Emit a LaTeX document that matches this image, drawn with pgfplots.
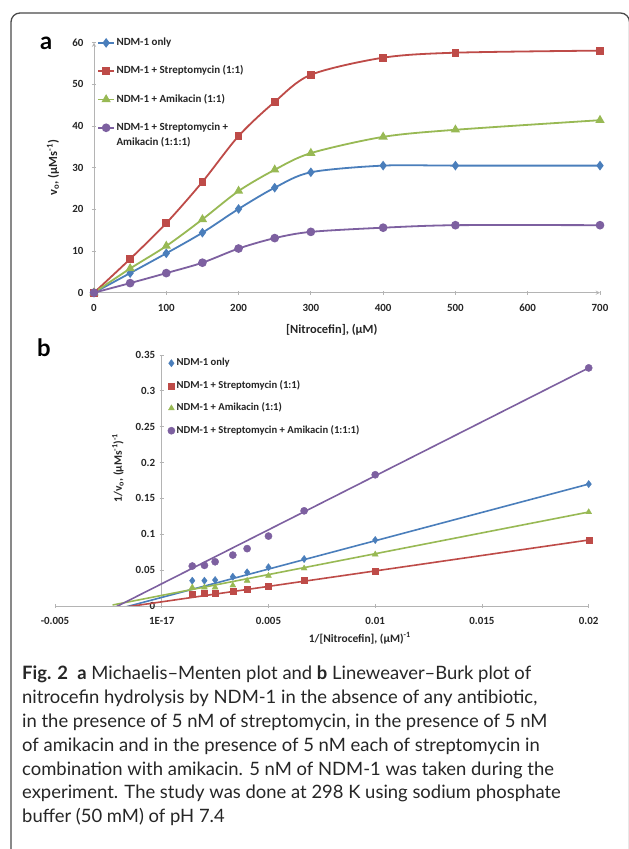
\documentclass[border=0pt]{standalone}
\usepackage{fontspec}
\setmainfont{Carlito}
\newfontfamily\capfont{Lato}
\usepackage{pgfplots}
\pgfplotsset{compat=1.18}
\definecolor{cblue}{HTML}{4A7EBB}
\definecolor{cred}{HTML}{BE4B48}
\definecolor{cgreen}{HTML}{98B954}
\definecolor{cpurple}{HTML}{7D60A0}
\definecolor{axgray}{HTML}{B4B4B4}
\definecolor{framegray}{HTML}{4A4A4A}
\newcommand{\lblfont}{\fontsize{11.5}{13}\selectfont\bfseries}
\newcommand{\lblfonta}{\fontsize{12.5}{14}\selectfont\bfseries}
\pgfplotsset{
  common/.style={
    scale only axis,
    axis line style={-, draw=axgray, line width=0.9bp},
    tick style={draw=axgray, line width=0.9bp},
    tick align=outside,
    major tick length=4bp,
    ticklabel style={font=\fontsize{11}{13}\selectfont\bfseries, text=black!85},
    clip=true,
  },
}
\begin{document}
\begin{tikzpicture}
\useasboundingbox (0,0) rectangle (629bp,849bp);
\begin{scope}
\clip (0,0) rectangle (629bp,849bp);
\fill[white] (0,0) rectangle (629bp,849bp);
\draw[framegray, line width=1.3bp, rounded corners=9bp] (11bp,-20bp) -- (11bp,836bp) -- (629.5bp,836bp) -- (629.5bp,-20bp);
\end{scope}

% ---------- panel a ----------
\node[anchor=base west, inner sep=0pt, font=\capfont\bfseries\fontsize{24}{24}\selectfont] at (40bp,799bp) {a};
\begin{axis}[common,
  at={(94bp,556.3bp)}, anchor=south west,
  width=506bp, height=250bp,
  xmin=0, xmax=700, ymin=0, ymax=60,
  axis lines=left,
  xtick={0,100,200,300,400,500,600,700},
  xticklabels={0,100,200,300,400,500,600,700},
  ytick={0,10,20,30,40,50,60},
  yticklabels={0,10,20,30,40,50,60},
  xticklabel style={yshift=-6bp},
  yticklabel style={xshift=-5bp},
  every axis x label/.style={at={(axis description cs:0.47,-0.148)}, anchor=center, font=\lblfonta, text=black!85},
  every axis y label/.style={at={(axis description cs:-0.081,0.5)}, rotate=90, anchor=center, font=\lblfonta, text=black!85},
  xlabel={[Nitrocefin], (µM)},
  ylabel={v\textsubscript{o}, (µMs\textsuperscript{-1})},
  legend image code/.code={\draw[mark repeat=2,mark phase=2,#1] plot coordinates {(0bp,0bp)(8bp,0bp)(16bp,0bp)};},
  legend cell align=left,
  legend style={at={(axis description cs:0.006,1.021)}, anchor=north west, draw=none, fill=none, inner sep=0pt, row sep=17.8bp,
    nodes={inner xsep=1.5bp, inner ysep=0pt, text height=8bp, text depth=2.5bp, font=\fontsize{11}{13}\selectfont\bfseries, text=black!85}},
]
\addplot[cblue, line width=1.8bp, smooth, tension=0.5, mark=diamond*, mark size=3.4bp, mark options={solid}]
  coordinates {(0,0)(50,4.7)(100,9.45)(150,14.4)(200,20.1)(250,25.2)(300,28.9)(400,30.5)(500,30.5)(700,30.5)};
\addlegendentry{NDM-1 only}
\addplot[cred, line width=1.8bp, smooth, tension=0.5, mark=square*, mark size=3bp]
  coordinates {(0,0)(50,8.1)(100,16.7)(150,26.6)(200,37.6)(250,45.8)(300,52.3)(400,56.4)(500,57.6)(700,58.1)};
\addlegendentry{NDM-1 + Streptomycin (1:1)}
\addplot[cgreen, line width=1.8bp, smooth, tension=0.5, mark=triangle*, mark size=3.6bp]
  coordinates {(0,0)(50,5.8)(100,11.2)(150,17.6)(200,24.4)(250,29.5)(300,33.5)(400,37.4)(500,39.1)(700,41.4)};
\addlegendentry{NDM-1 + Amikacin (1:1)}
\addplot[cpurple, line width=1.8bp, smooth, tension=0.5, mark=*, mark size=3.4bp]
  coordinates {(0,0)(50,2.3)(100,4.7)(150,7.2)(200,10.6)(250,13.1)(300,14.6)(400,15.6)(500,16.2)(700,16.2)};
\addlegendentry{\smash{\rlap{\raisebox{-15bp}{Amikacin (1:1:1)}}}NDM-1 + Streptomycin +}
\end{axis}

% ---------- panel b ----------
\node[anchor=base west, inner sep=0pt, font=\capfont\bfseries\fontsize{24}{24}\selectfont] at (37bp,492bp) {b};
\begin{axis}[common,
  at={(55bp,243bp)}, anchor=south west,
  width=533.7bp, height=251bp,
  xmin=-0.005, xmax=0.02, ymin=0, ymax=0.35,
  axis x line=bottom, axis y line=middle,
  axis line style={-},
  hide obscured x ticks=false, hide obscured y ticks=false,
  xtick={-0.005,0,0.005,0.01,0.015,0.02},
  xticklabels={-0.005,1E-17,0.005,0.01,0.015,0.02},
  ytick={0,0.05,0.1,0.15,0.2,0.25,0.3,0.35},
  yticklabels={0,0.05,0.1,0.15,0.2,0.25,0.3,0.35},
  xticklabel style={yshift=-6bp},
  yticklabel style={xshift=-1bp},
  scaled ticks=false,
  every axis x label/.style={at={(axis description cs:0.571,-0.128)}, anchor=center, font=\lblfont, text=black!85},
  every axis y label/.style={at={(axis description cs:0.118,0.55)}, rotate=90, anchor=center, font=\lblfont, text=black!85},
  xlabel={1/[Nitrocefin], (µM)\textsuperscript{-1}},
  ylabel={1/v\textsubscript{o}, (µMs\textsuperscript{-1})\textsuperscript{-1}},
  legend image code/.code={\draw[#1] plot coordinates {(3.5bp,0bp)};},
  legend cell align=left,
  legend style={at={(axis description cs:0.211,0.988)}, anchor=north west, draw=none, fill=none, inner sep=0pt, row sep=12.5bp,
    nodes={inner xsep=1.5bp, inner ysep=0pt, text height=7.5bp, text depth=2.5bp, font=\fontsize{10.7}{12}\selectfont\bfseries, text=black!85}},
]
\addplot[only marks, cblue, mark=diamond*, mark size=3.6bp]
  coordinates {(0.00143,0.0353)(0.002,0.0353)(0.0025,0.0362)(0.00333,0.0408)(0.004,0.047)(0.005,0.054)(0.00667,0.0655)(0.01,0.092)(0.02,0.170)};
\addlegendentry{NDM-1 only}
\addplot[only marks, cred, mark=square*, mark size=3bp]
  coordinates {(0.00143,0.0163)(0.002,0.0177)(0.0025,0.0185)(0.00333,0.0213)(0.004,0.024)(0.005,0.0283)(0.00667,0.0362)(0.01,0.049)(0.02,0.092)};
\addlegendentry{NDM-1 + Streptomycin (1:1)}
\addplot[only marks, cgreen, mark=triangle*, mark size=3.4bp]
  coordinates {(0.00143,0.026)(0.002,0.026)(0.0025,0.026)(0.00333,0.0288)(0.004,0.0353)(0.005,0.0422)(0.00667,0.0525)(0.01,0.072)(0.02,0.131)};
\addlegendentry{NDM-1 + Amikacin (1:1)}
\addplot[only marks, cpurple, mark=*, mark size=3.6bp]
  coordinates {(0.00143,0.0557)(0.002,0.0567)(0.0025,0.0617)(0.00333,0.071)(0.004,0.080)(0.005,0.0975)(0.00667,0.1327)(0.01,0.183)(0.02,0.332)};
\addlegendentry{NDM-1 + Streptomycin + Amikacin (1:1:1)}
% linear trendlines (Excel style, backward forecast)
\addplot[forget plot, cblue, line width=1.6bp] coordinates {(-0.0023,-0.0062)(0.02,0.170)};
\addplot[forget plot, cred, line width=1.6bp] coordinates {(-0.0023,-0.0041)(0.02,0.092)};
\addplot[forget plot, cgreen, line width=1.6bp] coordinates {(-0.0023,0.0014)(0.02,0.131)};
\addplot[forget plot, cpurple, line width=1.6bp] coordinates {(-0.0023,-0.0036)(0.02,0.332)};
\end{axis}

% ---------- caption ----------
\begin{scope}[every node/.style={anchor=base west, inner sep=0pt, font=\capfont\fontsize{18.5}{21}\selectfont, text=black!85}]
\node at (22bp,169.5bp) {\textbf{Fig. 2}\hspace{0.5em}\textbf{a} Michaelis–Menten plot and \textbf{b} Lineweaver–Burk plot of};
\node at (22bp,145.6bp) {nitrocefin hydrolysis by NDM-1 in the absence of any antibiotic,};
\node at (22bp,121.7bp) {in the presence of 5 nM of streptomycin, in the presence of 5 nM};
\node at (22bp,97.8bp) {of amikacin and in the presence of 5 nM each of streptomycin in};
\node at (22bp,73.9bp) {combination with amikacin. 5 nM of NDM-1 was taken during the};
\node at (22bp,50bp) {experiment. The study was done at 298 K using sodium phosphate};
\node at (22bp,26.1bp) {buffer (50 mM) of pH 7.4};
\end{scope}
\end{tikzpicture}
\end{document}
